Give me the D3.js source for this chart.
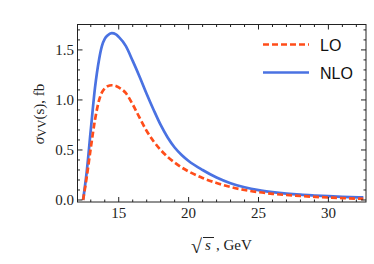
<!DOCTYPE html>
<html><head><meta charset="utf-8">
<script src="https://cdn.jsdelivr.net/npm/d3@7"></script>
<style>html,body{margin:0;padding:0;background:#fff;}svg{display:block;}</style>
</head><body>
<svg id="chart" width="374" height="264"></svg>
<script>
// Data
const energies = [12.45, 12.7, 13.0, 13.3, 13.6, 13.8, 14.0, 14.2, 14.5, 14.8, 15.0, 15.5, 16.0, 16.5, 17, 17.5, 18, 18.5, 19, 19.5, 20, 21, 22, 23, 24, 25, 26, 27, 28, 29, 30, 31, 32.5];
const nloValues = [0, 0.27, 0.70, 1.12, 1.41, 1.54, 1.61, 1.645, 1.667, 1.655, 1.63, 1.54, 1.39, 1.23, 1.06, 0.90, 0.75, 0.625, 0.525, 0.45, 0.39, 0.30, 0.225, 0.168, 0.128, 0.099, 0.079, 0.064, 0.053, 0.045, 0.038, 0.032, 0.026];
const loValues  = [0, 0.22, 0.52, 0.80, 1.00, 1.075, 1.115, 1.138, 1.147, 1.14, 1.125, 1.07, 0.955, 0.82, 0.69, 0.585, 0.50, 0.43, 0.375, 0.325, 0.285, 0.22, 0.17, 0.13, 0.10, 0.078, 0.062, 0.05, 0.04, 0.032, 0.025, 0.019, 0.012];
const xTicks = [15, 20, 25, 30];
const yTicks = [0.0, 0.5, 1.0, 1.5];
const seriesNames = ["LO", "NLO"];

const svg = d3.select("#chart");
const L = 77.5, R = 366, T = 24.5, B = 202;
const x = d3.scaleLinear().domain([12.05, 32.69]).range([L, R]);
const y = d3.scaleLinear().domain([-0.02, 1.754]).range([B, T]);

const serif = "'Liberation Serif', 'Times New Roman', serif";
const sans = "'Liberation Sans', Arial, sans-serif";

svg.append("clipPath").attr("id","clip").append("rect")
  .attr("x", L).attr("y", T).attr("width", R-L).attr("height", B-T);

const lineGen = vals => d3.line()
  .x((d,i)=>x(energies[i])).y(d=>y(d))
  .curve(d3.curveMonotoneX)(vals);

const colLO = "#ff4d1a", colNLO = "#4a72e2";

const g = svg.append("g").attr("clip-path","url(#clip)");
g.append("path").attr("d", lineGen(nloValues)).attr("fill","none")
  .attr("stroke", colNLO).attr("stroke-width", 2.7);
g.append("path").attr("d", lineGen(loValues)).attr("fill","none")
  .attr("stroke", colLO).attr("stroke-width", 2.7).attr("stroke-dasharray","6,3");

// Frame
svg.append("rect").attr("x", L).attr("y", T).attr("width", R-L).attr("height", B-T)
  .attr("fill","none").attr("stroke","#222").attr("stroke-width",1);

// Ticks (inward, all sides)
const xMinor = d3.range(13, 33, 1).filter(v => !xTicks.includes(v));
const yMinor = d3.range(0, 1.75, 0.1).map(v=>+v.toFixed(2)).filter(v => !yTicks.some(t=>Math.abs(t-v)<1e-6));
const tk = svg.append("g").attr("stroke","#222").attr("stroke-width",1);
xTicks.forEach(v=>{
  tk.append("line").attr("x1",x(v)).attr("x2",x(v)).attr("y1",B).attr("y2",B-5);
  tk.append("line").attr("x1",x(v)).attr("x2",x(v)).attr("y1",T).attr("y2",T+5);
});
xMinor.forEach(v=>{
  tk.append("line").attr("x1",x(v)).attr("x2",x(v)).attr("y1",B).attr("y2",B-2.5);
  tk.append("line").attr("x1",x(v)).attr("x2",x(v)).attr("y1",T).attr("y2",T+2.5);
});
yTicks.forEach(v=>{
  tk.append("line").attr("y1",y(v)).attr("y2",y(v)).attr("x1",L).attr("x2",L+5);
  tk.append("line").attr("y1",y(v)).attr("y2",y(v)).attr("x1",R).attr("x2",R-5);
});
yMinor.forEach(v=>{
  tk.append("line").attr("y1",y(v)).attr("y2",y(v)).attr("x1",L).attr("x2",L+2.5);
  tk.append("line").attr("y1",y(v)).attr("y2",y(v)).attr("x1",R).attr("x2",R-2.5);
});

// Tick labels
svg.append("g").selectAll("text").data(xTicks).join("text")
  .attr("x", d=>x(d)).attr("y", 218).attr("text-anchor","middle")
  .attr("font-family", serif).attr("font-size", 15).attr("fill","#222")
  .text(d=>d3.format("d")(d));
svg.append("g").selectAll("text").data(yTicks).join("text")
  .attr("x", 74).attr("y", d=>y(d)+5).attr("text-anchor","end")
  .attr("font-family", serif).attr("font-size", 15).attr("fill","#222")
  .text(d=>d3.format(".1f")(d));

// Y axis label
const yl = svg.append("text").attr("transform","translate(44,114) rotate(-90)")
  .attr("text-anchor","middle").attr("font-family", serif).attr("font-size", 15).attr("fill","#222");
yl.append("tspan").attr("font-style","italic").text("σ");
yl.append("tspan").attr("font-size", 12).attr("dy", 2).text("VV");
yl.append("tspan").attr("dy", -2).text("(s), fb");

// X axis label: sqrt(s), GeV
const xl = svg.append("g").attr("font-family", serif).attr("fill","#222");
xl.append("text").attr("x", 191).attr("y", 253).attr("font-size", 20).text("√");
xl.append("line").attr("x1", 203).attr("x2", 214).attr("y1", 237.5).attr("y2", 237.5)
  .attr("stroke","#222").attr("stroke-width",1);
xl.append("text").attr("x", 205).attr("y", 250).attr("font-size", 15).attr("font-style","italic").text("s");
xl.append("text").attr("x", 216).attr("y", 250).attr("font-size", 15).text(", GeV");

// Legend
const leg = svg.append("g");
const legY = [44.5, 72.5];
const legCol = [colLO, colNLO];
seriesNames.forEach((name,i)=>{
  leg.append("line").attr("x1",263).attr("x2",309).attr("y1",legY[i]).attr("y2",legY[i])
    .attr("stroke",legCol[i]).attr("stroke-width",2.7)
    .attr("stroke-dasharray", i===0 ? "6,3" : null);
  leg.append("text").attr("x",320).attr("y",legY[i]+6).attr("font-family",sans)
    .attr("font-size",16).attr("fill","#111").text(name);
});
</script>
</body></html>
